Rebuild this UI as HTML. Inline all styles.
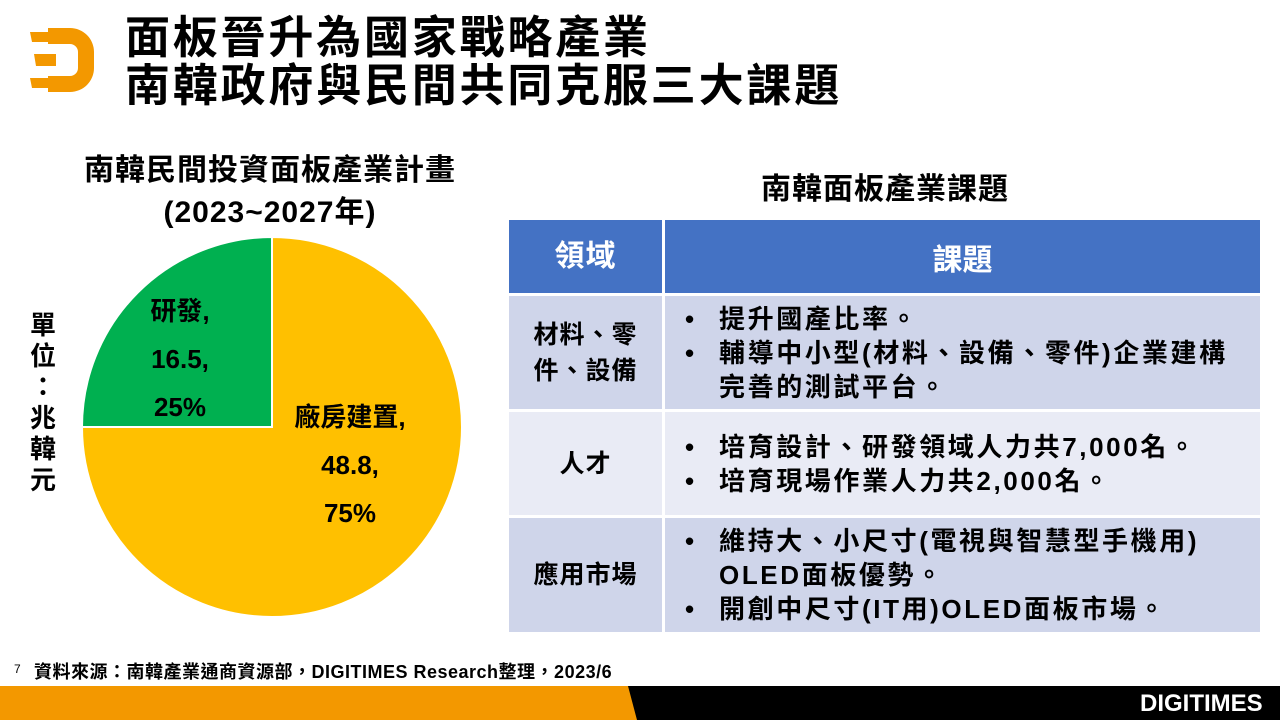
<!DOCTYPE html>
<html><head><meta charset="utf-8"><style>
*{margin:0;padding:0;box-sizing:border-box}
body{width:1280px;height:720px;position:relative;background:#fff;overflow:hidden;font-family:"Liberation Sans","Noto Sans CJK TC",sans-serif;color:#000}
.a{position:absolute}
.t{font-weight:bold;font-size:45px;line-height:48px;left:125px;letter-spacing:2.8px;white-space:nowrap}
.cell{position:absolute;display:flex;align-items:center;font-weight:bold}
.c1{left:509px;width:153px;justify-content:center;text-align:center;font-size:25px;line-height:36px;letter-spacing:1px}
.c2{left:665px;width:595px;font-size:26px;line-height:34px;padding-left:20px;white-space:nowrap;letter-spacing:2.6px}
ul{list-style:none}
li{position:relative;padding-left:34px}
li:before{content:"•";position:absolute;left:0}
.pl{font-weight:bold;font-size:26px;line-height:48px;text-align:center}
</style></head><body>
<svg class="a" style="left:28px;top:22px" width="70" height="76" viewBox="0 0 70 76">
<path d="M20 6h22a24 24 0 0 1 24 24v16a24 24 0 0 1-24 24H20v-16h22a8 8 0 0 0 8-8V30a8 8 0 0 0-8-8H20z" fill="#F39800"/>
<path d="M2 10h24l2 10H4z M6 32h22v12H8z M2 56h26l-2 10H4z" fill="#F39800"/>
</svg>
<div class="a t" style="top:14px">面板晉升為國家戰略產業</div>
<div class="a t" style="top:62px">南韓政府與民間共同克服三大課題</div>

<div class="a" style="left:40px;top:150px;width:460px;text-align:center;font-size:30px;line-height:42px;font-weight:bold;letter-spacing:1px">南韓民間投資面板產業計畫<br>(2023~2027年)</div>
<div class="a" style="left:26px;top:310px;width:34px;font-size:26px;line-height:31px;text-align:center;font-weight:bold">單<br>位<br>：<br>兆<br>韓<br>元</div>
<svg class="a" style="left:0;top:0" width="520" height="640">
<path d="M272 427 L272 237 A190 190 0 1 1 82 427 Z" fill="#FFC000" stroke="#fff" stroke-width="2"/>
<path d="M272 427 L82 427 A190 190 0 0 1 272 237 Z" fill="#00B050" stroke="#fff" stroke-width="2"/>
</svg>
<div class="a pl" style="left:125px;top:287px;width:110px">研發,<br>16.5,<br>25%</div>
<div class="a pl" style="left:270px;top:393px;width:160px">廠房建置,<br>48.8,<br>75%</div>

<div class="a" style="left:685px;top:164px;width:400px;text-align:center;font-size:30px;font-weight:bold;letter-spacing:1px">南韓面板產業課題</div>
<div class="cell c1" style="top:220px;height:73px;background:#4472C4;color:#fff;font-size:30px">領域</div>
<div class="cell" style="left:665px;width:595px;top:220px;height:73px;background:#4472C4;color:#fff;font-size:30px;justify-content:center">課題</div>
<div class="cell c1" style="top:296px;height:113px;background:#CFD5EA">材料、零<br>件、設備</div>
<div class="cell c2" style="top:296px;height:113px;background:#CFD5EA"><ul><li>提升國產比率。</li><li>輔導中小型(材料、設備、零件)企業建構<br>完善的測試平台。</li></ul></div>
<div class="cell c1" style="top:412px;height:103px;background:#E9EBF5">人才</div>
<div class="cell c2" style="top:412px;height:103px;background:#E9EBF5"><ul><li>培育設計、研發領域人力共7,000名。</li><li>培育現場作業人力共2,000名。</li></ul></div>
<div class="cell c1" style="top:518px;height:114px;background:#CFD5EA">應用市場</div>
<div class="cell c2" style="top:518px;height:114px;background:#CFD5EA"><ul><li>維持大、小尺寸(電視與智慧型手機用)<br>OLED面板優勢。</li><li>開創中尺寸(IT用)OLED面板市場。</li></ul></div>

<div class="a" style="left:14px;top:662px;font-size:12px">7</div>
<div class="a" style="left:34px;top:658px;font-size:18px;font-weight:bold;white-space:nowrap;letter-spacing:0.5px">資料來源：南韓產業通商資源部，DIGITIMES Research整理，2023/6</div>
<svg class="a" style="left:0;top:686px" width="1280" height="34"><rect width="1280" height="34" fill="#000"/><path d="M0 0H628L637 34H0Z" fill="#F39800"/></svg>
<div class="a" style="left:1140px;top:690px;color:#fff;font-size:24px;font-weight:bold">DIGITIMES</div>
</body></html>
